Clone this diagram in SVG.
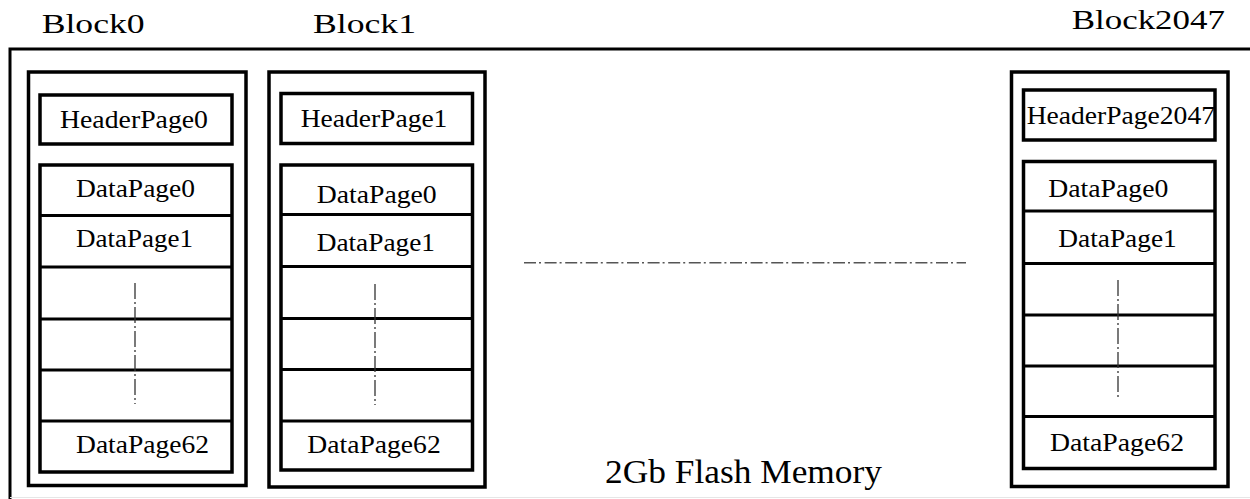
<svg xmlns="http://www.w3.org/2000/svg" width="1250" height="499" viewBox="0 0 1250 499">
  <style>
    .frame { fill: none; stroke: #000; stroke-width: 3; }
    .blk { fill: #fff; stroke: #000; stroke-width: 3.5; }
    .page { fill: #fff; stroke: #000; stroke-width: 3.5; }
    .div { stroke: #000; stroke-width: 3; }
    .vdots { stroke: #333; stroke-width: 1.3; stroke-dasharray: 16 3 2 3; fill: none; }
    .hdots { stroke: #555; stroke-width: 1.6; stroke-dasharray: 12 3 2 3.6; fill: none; }
    text { font-family: "Liberation Serif", "Times New Roman", serif; fill: #000; }
    .title { font-size: 28px; }
    .lbl { font-size: 26px; }
    .mem { font-size: 33px; }
  </style>

  <rect width="1250" height="499" fill="#fff"/>

  <!-- memory device outline (open at right/bottom) -->
  <g id="flash-memory">
    <path class="frame" d="M10,499 V49 H1250"/>
    <line x1="10" y1="497.5" x2="1250" y2="497.5" stroke="#e6e6e6" stroke-width="1"/>
    <text class="mem" x="605" y="483.3" textLength="277" lengthAdjust="spacingAndGlyphs">2Gb Flash Memory</text>
  </g>

  <!-- Block 0 -->
  <g id="block0">
    <text class="title" x="41.7" y="33.3" textLength="103" lengthAdjust="spacingAndGlyphs">Block0</text>
    <rect class="blk" x="28.5" y="72" width="217.5" height="413.5"/>
    <g id="block0-header">
      <rect class="page" x="40" y="95" width="192" height="49"/>
      <text class="lbl" x="60" y="127.7" textLength="148" lengthAdjust="spacingAndGlyphs">HeaderPage0</text>
    </g>
    <g id="block0-data">
      <rect class="page" x="40" y="165" width="192" height="307"/>
      <line class="div" x1="40" y1="215.5" x2="232" y2="215.5"/>
      <line class="div" x1="40" y1="267" x2="232" y2="267"/>
      <line class="div" x1="40" y1="319" x2="232" y2="319"/>
      <line class="div" x1="40" y1="370" x2="232" y2="370"/>
      <line class="div" x1="40" y1="421" x2="232" y2="421"/>
      <text class="lbl" x="76" y="196.7" textLength="119" lengthAdjust="spacingAndGlyphs">DataPage0</text>
      <text class="lbl" x="76" y="247.3" textLength="117" lengthAdjust="spacingAndGlyphs">DataPage1</text>
      <text class="lbl" x="76" y="452.7" textLength="133" lengthAdjust="spacingAndGlyphs">DataPage62</text>
      <line class="vdots" x1="135" y1="283" x2="135" y2="404"/>
    </g>
  </g>

  <!-- Block 1 -->
  <g id="block1">
    <text class="title" x="313" y="33.3" textLength="103" lengthAdjust="spacingAndGlyphs">Block1</text>
    <rect class="blk" x="269" y="72" width="216" height="415"/>
    <g id="block1-header">
      <rect class="page" x="281" y="93.5" width="191.5" height="50"/>
      <text class="lbl" x="300.7" y="127.3" textLength="146.7" lengthAdjust="spacingAndGlyphs">HeaderPage1</text>
    </g>
    <g id="block1-data">
      <rect class="page" x="281" y="165" width="191.5" height="305"/>
      <line class="div" x1="281" y1="214.5" x2="472.5" y2="214.5"/>
      <line class="div" x1="281" y1="266.5" x2="472.5" y2="266.5"/>
      <line class="div" x1="281" y1="318.5" x2="472.5" y2="318.5"/>
      <line class="div" x1="281" y1="369.5" x2="472.5" y2="369.5"/>
      <line class="div" x1="281" y1="421" x2="472.5" y2="421"/>
      <text class="lbl" x="316.7" y="202.7" textLength="120" lengthAdjust="spacingAndGlyphs">DataPage0</text>
      <text class="lbl" x="316.7" y="250.7" textLength="118.3" lengthAdjust="spacingAndGlyphs">DataPage1</text>
      <text class="lbl" x="307.3" y="453.3" textLength="133.4" lengthAdjust="spacingAndGlyphs">DataPage62</text>
      <line class="vdots" x1="375" y1="284" x2="375" y2="405"/>
    </g>
  </g>

  <!-- Block 2047 -->
  <g id="block2047">
    <text class="title" x="1071.7" y="29.3" textLength="153.3" lengthAdjust="spacingAndGlyphs">Block2047</text>
    <rect class="blk" x="1011.5" y="72" width="216.5" height="414.5"/>
    <g id="block2047-header">
      <rect class="page" x="1023.5" y="90" width="191.5" height="50"/>
      <text class="lbl" x="1026.7" y="124" textLength="188.3" lengthAdjust="spacingAndGlyphs">HeaderPage2047</text>
    </g>
    <g id="block2047-data">
      <rect class="page" x="1023.5" y="161.5" width="191.5" height="307"/>
      <line class="div" x1="1023.5" y1="211" x2="1215" y2="211"/>
      <line class="div" x1="1023.5" y1="263.5" x2="1215" y2="263.5"/>
      <line class="div" x1="1023.5" y1="315" x2="1215" y2="315"/>
      <line class="div" x1="1023.5" y1="366" x2="1215" y2="366"/>
      <line class="div" x1="1023.5" y1="416.5" x2="1215" y2="416.5"/>
      <text class="lbl" x="1048.3" y="197.3" textLength="120" lengthAdjust="spacingAndGlyphs">DataPage0</text>
      <text class="lbl" x="1058.3" y="246.7" textLength="118.4" lengthAdjust="spacingAndGlyphs">DataPage1</text>
      <text class="lbl" x="1050" y="451" textLength="134" lengthAdjust="spacingAndGlyphs">DataPage62</text>
      <line class="vdots" x1="1118" y1="280" x2="1118" y2="400"/>
    </g>
  </g>

  <!-- elided blocks between Block1 and Block2047 -->
  <g id="connectors">
    <line class="hdots" x1="524" y1="262.7" x2="966" y2="262.7"/>
  </g>
</svg>
